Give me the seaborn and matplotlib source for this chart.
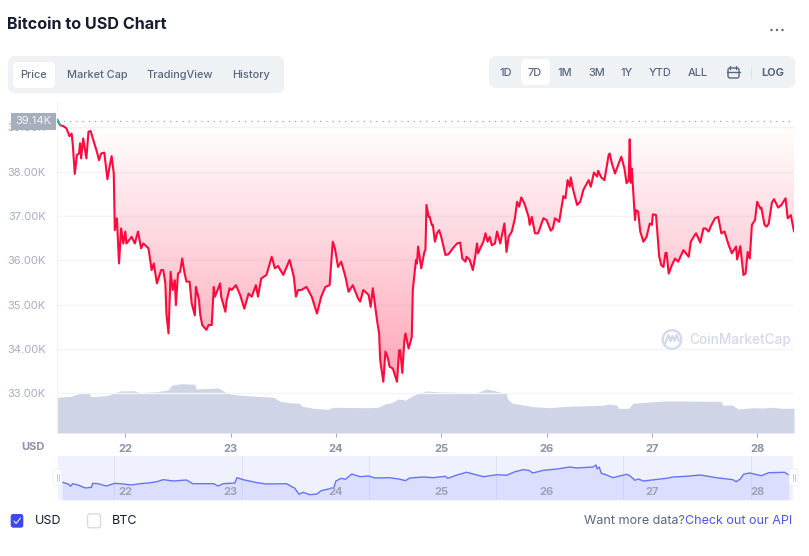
import numpy as np
import pandas as pd
import matplotlib
matplotlib.use("Agg")
import matplotlib.pyplot as plt
from matplotlib.patches import FancyBboxPatch, Circle, Rectangle
import seaborn as sns

# ---------- data ----------
price_days = [21.354,21.38,21.41,21.44,21.47,21.49,21.50,21.52,21.54,21.56,21.57,21.58,21.60,21.63,21.65,21.67,21.70,21.73,21.75,21.77,21.80,21.83,21.85,21.87,21.89,21.90,21.92,21.94,21.96,21.98,22.00,22.01,22.06,22.09,22.12,22.15,22.17,22.22,22.25,22.27,22.30,22.34,22.36,22.38,22.39,22.41,22.43,22.45,22.47,22.48,22.50,22.52,22.54,22.56,22.58,22.61,22.63,22.66,22.67,22.70,22.71,22.73,22.77,22.79,22.82,22.84,22.85,22.87,22.90,22.91,22.95,22.96,22.99,23.01,23.05,23.09,23.13,23.17,23.20,23.24,23.26,23.29,23.34,23.39,23.42,23.45,23.50,23.56,23.60,23.62,23.64,23.67,23.72,23.77,23.82,23.86,23.90,23.94,23.97,23.99,24.02,24.05,24.09,24.12,24.16,24.21,24.23,24.26,24.31,24.33,24.35,24.39,24.41,24.42,24.45,24.47,24.49,24.51,24.54,24.58,24.60,24.61,24.63,24.65,24.66,24.69,24.72,24.73,24.76,24.77,24.78,24.81,24.84,24.85,24.86,24.88,24.89,24.91,24.92,24.94,24.96,24.98,25.00,25.04,25.07,25.11,25.15,25.18,25.20,25.23,25.24,25.27,25.30,25.32,25.34,25.35,25.37,25.40,25.42,25.44,25.46,25.48,25.51,25.53,25.56,25.60,25.62,25.64,25.67,25.70,25.72,25.74,25.76,25.79,25.83,25.84,25.86,25.89,25.92,25.97,26.00,26.04,26.06,26.08,26.12,26.16,26.18,26.20,26.22,26.23,26.25,26.29,26.32,26.35,26.40,26.42,26.45,26.48,26.49,26.52,26.55,26.59,26.60,26.62,26.65,26.68,26.71,26.74,26.76,26.78,26.79,26.80,26.81,26.84,26.85,26.87,26.89,26.92,26.95,26.98,27.00,27.01,27.04,27.07,27.09,27.11,27.13,27.14,27.16,27.19,27.22,27.25,27.30,27.35,27.37,27.41,27.42,27.46,27.49,27.51,27.54,27.56,27.60,27.63,27.66,27.69,27.73,27.76,27.80,27.81,27.84,27.87,27.89,27.91,27.93,27.95,27.98,28.00,28.03,28.04,28.07,28.09,28.11,28.14,28.16,28.20,28.23,28.27,28.29,28.32,28.35]
price_k = [39.17,39.05,39.03,38.98,38.80,38.86,38.64,37.95,38.38,38.41,38.64,38.30,38.75,38.30,38.90,38.92,38.68,38.45,38.26,38.41,38.43,37.83,38.11,38.35,37.96,36.68,36.95,35.93,36.72,36.38,36.65,36.38,36.53,36.38,36.65,36.27,36.38,36.27,35.78,35.93,35.48,35.78,35.78,35.48,34.80,34.35,35.74,35.33,35.55,34.99,35.70,35.74,36.04,35.74,35.52,35.52,35.03,34.76,35.40,35.10,34.80,34.54,34.43,34.54,34.54,35.40,35.18,35.29,35.48,35.18,34.84,35.07,35.37,35.33,35.44,35.22,34.91,35.25,35.18,35.44,35.18,35.59,35.67,36.08,35.82,35.87,35.67,36.01,35.63,35.18,35.33,35.33,35.40,35.18,34.80,35.18,35.40,35.44,36.42,36.27,35.85,35.97,35.63,35.29,35.44,35.14,35.07,35.33,35.22,34.95,35.37,34.65,34.35,33.75,33.26,33.94,33.82,33.60,33.56,33.26,33.97,33.97,33.46,34.20,34.35,34.01,34.27,35.33,36.01,35.93,36.31,35.82,36.19,36.23,37.25,36.98,36.98,36.80,36.80,36.42,36.61,36.68,36.53,36.12,36.14,36.27,36.38,36.40,36.04,35.97,36.08,36.01,35.78,36.04,36.38,36.16,36.27,36.42,36.61,36.42,36.53,36.34,36.38,36.65,36.38,36.83,36.19,36.53,36.65,36.95,37.32,37.21,37.42,37.28,36.98,36.80,36.98,36.61,36.61,36.95,36.91,36.67,36.72,36.95,36.87,37.45,37.40,37.81,37.66,37.87,37.62,37.25,37.32,37.59,37.81,37.66,37.98,37.89,38.02,37.87,37.81,38.38,38.41,38.19,37.96,38.15,38.34,38.07,37.74,37.81,38.73,37.75,38.07,36.91,37.13,37.10,36.65,36.42,36.53,36.83,36.80,37.04,37.02,36.08,35.89,35.85,36.17,36.17,35.70,35.89,36.04,35.97,36.23,36.08,36.42,36.58,36.61,36.40,36.72,36.72,36.65,36.77,36.95,36.98,36.61,36.65,36.34,36.16,36.31,36.02,36.32,35.67,35.70,36.19,36.04,36.80,36.91,37.32,37.17,37.19,36.80,36.76,36.83,37.30,37.38,37.19,37.25,37.40,36.95,37.02,36.65]
start_price = 39.14

volume_days = [21.35,21.48,21.57,21.66,21.67,21.82,21.95,22.08,22.14,22.30,22.41,22.44,22.53,22.66,22.67,22.84,22.88,22.98,23.09,23.25,23.41,23.47,23.56,23.66,23.67,23.79,23.93,23.97,24.29,24.40,24.47,24.53,24.59,24.66,24.75,24.86,24.99,25.34,25.43,25.53,25.62,25.63,25.67,25.87,26.03,26.19,26.54,26.59,26.67,26.68,26.78,26.82,27.01,27.14,27.66,27.67,27.76,27.82,27.96,28.06,28.15,28.23,28.35]
volume_bn = [35.7,36.7,39.7,39.7,36.3,37.3,42,42.3,40.3,41.3,43.3,47.7,49.3,48.7,44,44.7,45,39.3,37.7,36.7,35.7,31.7,30.3,29.7,27,24.7,23.7,25.7,25.3,25.7,29.3,30.3,34,33,38.3,42,41,40.3,44,41.7,39.3,34,30,26.3,25.3,26.7,27.7,29,27.7,24.7,24.7,29.7,31.3,32,31.7,28,28,24,25.3,25,25.7,24.7,24.7]

nav_days = [21.40,21.46,21.48,21.50,21.55,21.62,21.68,21.69,21.74,21.82,21.90,21.98,22.06,22.14,22.22,22.30,22.36,22.46,22.58,22.64,22.74,22.84,22.88,22.93,23.04,23.06,23.12,23.25,23.34,23.53,23.61,23.65,23.69,23.75,23.82,23.86,23.93,23.98,24.00,24.05,24.09,24.15,24.23,24.31,24.37,24.51,24.61,24.66,24.70,24.83,24.92,25.04,25.06,25.15,25.24,25.34,25.40,25.53,25.62,25.70,25.78,25.83,25.87,25.97,26.10,26.22,26.29,26.44,26.47,26.48,26.50,26.52,26.57,26.63,26.76,26.79,26.84,26.87,26.92,27.14,27.20,27.33,27.46,27.61,27.77,27.80,27.84,27.87,27.93,28.04,28.11,28.26,28.30]
nav_values = [17.7,16,13.7,16.3,15,12,12.7,16.7,16.3,14,16.7,16,15,16.3,17,18.3,20.3,19,20,16.3,16.3,16.3,14,16.3,17,22.3,20.3,17.3,16,16.3,11.7,5.7,7.7,5.3,6,9.3,11,12.3,19,21.7,20.7,26,23.3,24,22,22.3,20.7,19.3,22,23,22.3,23.7,21.7,25,27.7,25,23.3,25.3,24.7,28.3,30.3,29.7,27,29.7,31,33,32,33,35,31,33,26.7,25,22.3,25.7,24.3,19.7,21,19,21.7,23,23.7,25,22.3,20.3,18.3,21,25.7,27,24.3,27.3,27.7,25]
nav_grid_days = [21.89,23.11,24.31,25.52,26.73,27.94]

y_ticks = [33,34,35,36,37,38,39]
y_labels = ["33.00K","34.00K","35.00K","36.00K","37.00K","38.00K","39.00K"]
x_ticks = [22,23,24,25,26,27,28]
x_labels = ["22","23","24","25","26","27","28"]
tab_labels = ["Price","Market Cap","TradingView","History"]
range_labels = ["1D","7D","1M","3M","1Y","YTD","ALL"]

price_df = pd.DataFrame({"day":price_days,"price":price_k})
nav_df = pd.DataFrame({"day":nav_days,"value":nav_values})

# ---------- theme ----------
sns.set_theme(style="white")
plt.rcParams["font.family"] = ["Inter","DejaVu Sans"]

W,H = 809,556
fig = plt.figure(figsize=(W/100,H/100),dpi=100,facecolor="white")
def rect(l,t,r,b):
    return [l/W,1-b/H,(r-l)/W,(b-t)/H]

GREY="#a6adc0"; DARK="#58667e"; RED="#ff0a3c"; GRID="#f2f4f8"
XMIN,XMAX = 21.351,28.35
YMIN,YMAX = 32.104,39.55

# ---------- volume (behind) ----------
axv = fig.add_axes(rect(57,103,794,433),zorder=1)
axv.fill_between(volume_days,volume_bn,0,color="#cfd5e6",lw=0)
axv.set_xlim(XMIN,XMAX); axv.set_ylim(0,330)
axv.axis("off")

# ---------- main price ----------
ax = fig.add_axes(rect(57,103,794,433),zorder=2)
ax.patch.set_alpha(0)
ax.set_xlim(XMIN,XMAX); ax.set_ylim(YMIN,YMAX)
ax.set_yticks(y_ticks); ax.set_yticklabels(y_labels)
ax.set_xticks(x_ticks); ax.set_xticklabels(x_labels)
ax.grid(axis="y",color=GRID,lw=1); ax.grid(axis="x",visible=False)
ax.set_axisbelow(True)
for s in ("top","right"):
    ax.spines[s].set_visible(False)
ax.spines["bottom"].set_visible(False)
ax.spines["left"].set_color("#f1f3f7"); ax.spines["left"].set_linewidth(0.8)
ax.tick_params(axis="y",length=0,labelsize=8,labelcolor=GREY,pad=8)
ax.tick_params(axis="x",length=3,width=0.8,color="#a6adc0",labelsize=8,labelcolor="#8b93a7",pad=5,direction="out",bottom=True)
for t in ax.get_xticklabels():
    t.set_fontweight("bold")

# gradient area between price and the start level
poly = ax.fill_between(price_days,np.minimum(price_k,start_price),start_price,facecolor="none",lw=0)
grad = np.zeros((256,1,4))
grad[...,0]=1.0; grad[...,1]=0.02; grad[...,2]=0.22
grad[:,0,3]=np.linspace(0.0,0.36,256)
im = ax.imshow(grad,extent=(XMIN,XMAX,33.2,start_price),aspect="auto",origin="upper",zorder=1.5)
im.set_clip_path(poly.get_paths()[0],ax.transData)
ax.set_xlim(XMIN,XMAX); ax.set_ylim(YMIN,YMAX)

ax.axhline(start_price,color="#9aa1b0",lw=0.9,ls=(0,(1,4)),zorder=1.6)
sns.lineplot(data=price_df,x="day",y="price",ax=ax,color=RED,lw=1.5,sort=False,estimator=None,errorbar=None,zorder=3)
sns.lineplot(data=price_df.iloc[:2],x="day",y="price",ax=ax,color="#16c784",lw=1.5,sort=False,estimator=None,errorbar=None,zorder=3.5)
ax.set_xlabel(""); ax.set_ylabel("")

# ---------- navigator ----------
axn = fig.add_axes(rect(58,456,793,500),zorder=1)
axn.set_facecolor("#eff1fe")
axn.set_xlim(XMIN+0.01,XMAX-0.01); axn.set_ylim(0,44)
for d in nav_grid_days:
    axn.axvline(d,color="#e0e3f6",lw=0.8,zorder=1)
axn.fill_between(nav_days,nav_values,0,color="#5a62f5",alpha=0.13,lw=0,zorder=2)
sns.lineplot(data=nav_df,x="day",y="value",ax=axn,color="#6474f7",lw=1.0,sort=False,estimator=None,errorbar=None,zorder=3)
axn.set_xticks(x_ticks); axn.set_xticklabels([])
axn.tick_params(length=0)
axn.set_yticks([]); axn.set_xlabel(""); axn.set_ylabel("")
for s in axn.spines.values():
    s.set_visible(False)
for d,l in zip(x_ticks,x_labels):
    axn.text(d,8,l,ha="center",va="center",fontsize=8,fontweight="bold",color="#9ea3ba",zorder=4)

# ---------- page furniture ----------
ui = fig.add_axes([0,0,1,1],zorder=5)
ui.set_xlim(0,W); ui.set_ylim(H,0); ui.axis("off"); ui.patch.set_alpha(0)
def rr(l,t,r,b,fc,rad=5,ec="none",lw=0,z=1):
    ui.add_patch(FancyBboxPatch((l+rad,t+rad),r-l-2*rad,b-t-2*rad,boxstyle=f"round,pad={rad},rounding_size={rad}",fc=fc,ec=ec,lw=lw,zorder=z))

ui.text(7,24.5,"Bitcoin to USD Chart",fontsize=11.6,fontweight="bold",color="#171c30",va="center")
for x in (771.5,777,782.5):
    ui.add_patch(Circle((x,30),1.2,fc=DARK,ec="none"))

rr(8,56,284,93,"#eff2f5",7)
rr(13,62,55,88,"white",5,z=2)
for x,l in zip((33.5,97,180,251.5),tab_labels):
    ui.text(x,75,l,ha="center",va="center",fontsize=7.9,fontweight="medium",color=DARK,zorder=3)

rr(489,56,795,88,"#eff2f5",7)
rr(521,59,550,85,"white",5,z=2)
for x,l in zip((505.5,535,565,597,627,660.5,698),range_labels):
    ui.text(x,73,l,ha="center",va="center",fontsize=7.9,fontweight="medium",color=DARK,zorder=3)
ui.text(773,73,"LOG",ha="center",va="center",fontsize=7.9,fontweight="bold",color=DARK,zorder=3)
ui.plot([751.5,751.5],[67,78],color="#d9deea",lw=0.8,zorder=3)
ui.add_patch(FancyBboxPatch((728,68),11,10,boxstyle="round,pad=0,rounding_size=2",fc="none",ec=DARK,lw=1,zorder=3))
ui.plot([727,740],[71.5,71.5],color=DARK,lw=1,zorder=3)
ui.plot([730.5,730.5],[66,68.5],color=DARK,lw=1,zorder=3)
ui.plot([736.5,736.5],[66,68.5],color=DARK,lw=1,zorder=3)

# price tag
ui.add_patch(Rectangle((11,113),45,17,fc="#a6adbb",ec="none",zorder=6))
ui.text(33.5,121.5,"39.14K",ha="center",va="center",fontsize=8,color="#f4f5f8",zorder=7)
ui.text(21,446.5,"USD",ha="left",va="center",fontsize=8,fontweight="bold",color="#8b93a7")

# watermark
ui.add_patch(Circle((672,339.5),9.3,fc="none",ec="#d3d9ea",lw=1.6,zorder=3))
ui.plot([665,668.5,670.5,672.5,674.5,676.5,679],[344,335,341,336,341,335,341],color="#d3d9ea",lw=1.6,zorder=3)
ui.text(689.5,340,"CoinMarketCap",ha="left",va="center",fontsize=9.8,fontweight="medium",color="#d3d9ea",zorder=3)

# navigator handles
rr(53,469,62,485.5,"white",3,ec="#e6e8f0",lw=0.5,z=6)
ui.plot([56.8,56.8],[474,481],color="#c6cad6",lw=0.7,zorder=7); ui.plot([58.6,58.6],[474,481],color="#c6cad6",lw=0.7,zorder=7)
rr(789,469,798,485.5,"white",3,ec="#e6e8f0",lw=0.5,z=6)
ui.plot([792.8,792.8],[474,481],color="#c6cad6",lw=0.7,zorder=7); ui.plot([794.6,794.6],[474,481],color="#c6cad6",lw=0.7,zorder=7)

# legend
rr(10.7,514,23.3,527.7,"#3d48ee",2.5,z=3)
ui.plot([14,16,20.5],[521,523.5,518],color="white",lw=0.7,zorder=4)
rr(87.5,514,100.5,527.7,"white",2.5,ec="#d6daf0",lw=1,z=3)
ui.text(34.5,521.5,"USD",va="center",fontsize=9,color="#171c30")
ui.text(112,521.5,"BTC",va="center",fontsize=9,color="#171c30")
ui.text(584,521.5,"Want more data?",va="center",fontsize=9,color=DARK)
ui.text(792,521.5,"Check out our API",va="center",ha="right",fontsize=9,color="#4a55f0")

fig.savefig("out.png",dpi=100,facecolor="white")
